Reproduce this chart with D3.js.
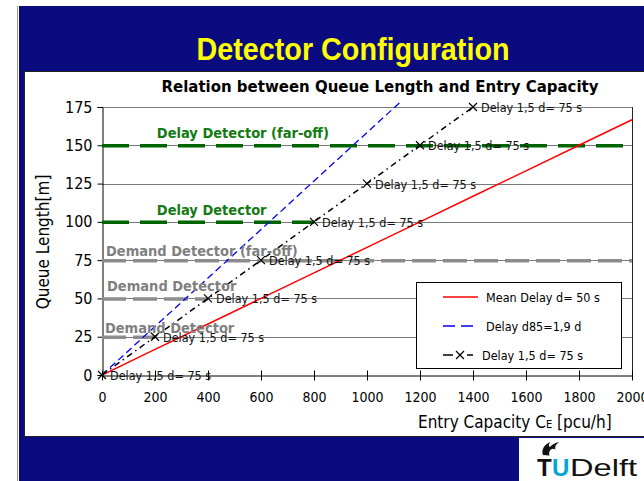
<!DOCTYPE html>
<html>
<head>
<meta charset="utf-8">
<script src="https://cdn.jsdelivr.net/npm/d3@7"></script>
<style>
  html, body { margin: 0; padding: 0; background: #ffffff; }
  svg { display: block; }
  .tahoma { font-family: "DejaVu Sans Condensed", "DejaVu Sans", sans-serif; font-stretch: condensed; }
</style>
</head>
<body>
<svg id="chart" width="644" height="481"></svg>
<script>
// Entry capacity (pcu/h) and queue length (m) for each delay criterion
const capacityRed   = [0, 200, 400, 600, 800, 1000, 1200, 1400, 1600, 1800, 2000];
const queueRed      = [0, 16.7, 33.3, 50, 66.7, 83.3, 100, 116.7, 133.3, 150, 166.7];
const capacityBlue  = [0, 200, 400, 600, 800, 1000, 1200];
const queueBlue     = [0, 31.7, 63.3, 95, 126.7, 158.3, 190];
const capacityBlack = [0, 200, 400, 600, 800, 1000, 1200, 1400];
const queueBlack    = [0, 25, 50, 75, 100, 125, 150, 175];

const seriesNames = ["Mean Delay d= 50 s", "Delay d85=1,9 d", "Delay 1,5 d= 75 s"];
const pointLabel = "Delay 1,5 d= 75 s";

// Detector positions (queue length) and how far each reference line runs
const detectorNames  = ["Delay Detector (far-off)", "Delay Detector", "Demand Detector (far-off)", "Demand Detector", "Demand Detector"];
const detectorLevels = [150, 100, 75, 50, 25];
const detectorEnds   = [2000, 800, 2000, 400, 200];
const detectorLabelX = [207, 207, 15, 19, 11];
const detectorKinds  = ["delay", "delay", "demand", "demand", "demand"];

const xTicks = [0, 200, 400, 600, 800, 1000, 1200, 1400, 1600, 1800, 2000];
const yTicks = [0, 25, 50, 75, 100, 125, 150, 175];

const svg = d3.select("#chart");

// Slide background
svg.append("rect").attr("x", 0).attr("y", 0).attr("width", 644).attr("height", 481).attr("fill", "#ffffff");
svg.append("rect").attr("x", 19).attr("y", 6).attr("width", 625).attr("height", 475).attr("fill", "#0b0b80");
svg.append("line").attr("x1", 17.5).attr("x2", 17.5).attr("y1", 6).attr("y2", 481).attr("stroke", "#9a9a9a");
svg.append("text")
  .attr("x", 353).attr("y", 60).attr("text-anchor", "middle")
  .attr("font-family", "'Liberation Sans Narrow', 'Arial Narrow', 'Liberation Sans', sans-serif")
  .attr("font-weight", "bold").attr("font-size", 32).attr("fill", "#ffff00")
  .attr("textLength", 313).attr("lengthAdjust", "spacingAndGlyphs")
  .text("Detector Configuration");

// White chart panel
svg.append("rect").attr("x", 24.5).attr("y", 71.5).attr("width", 625).attr("height", 365)
  .attr("fill", "#ffffff").attr("stroke", "#222").attr("stroke-width", 1);

// TU Delft logo box
const logo = svg.append("g");
logo.append("rect").attr("x", 519).attr("y", 438).attr("width", 125).attr("height", 43).attr("fill", "#ffffff");
logo.append("path")
  .attr("d", "M543,455 C541,450 544,445 550,442 C548.5,444.5 548.5,446 550,447 C552,444.5 555,443 559,442 C555.5,444.5 554.5,447 555.5,449.5 C553,448 550.5,449 549.5,451.5 C549,453 549,454 549.5,455.5 Z")
  .attr("fill", "#111");
logo.append("text").attr("x", 537).attr("y", 476)
  .attr("font-family", "'Liberation Sans', Arial, sans-serif").attr("font-weight", "bold")
  .attr("font-size", 24).attr("fill", "#111").text("T");
logo.append("text").attr("x", 552).attr("y", 476)
  .attr("font-family", "'Liberation Sans', Arial, sans-serif").attr("font-weight", "bold")
  .attr("font-size", 24).attr("fill", "#00a6d6").text("U");
logo.append("text").attr("x", 570).attr("y", 476)
  .attr("font-family", "'Liberation Sans', Arial, sans-serif")
  .attr("font-size", 24).attr("fill", "#111").attr("textLength", 67).attr("lengthAdjust", "spacingAndGlyphs").text("Delft");

// Plot area
const plot = { left: 102, right: 632, top: 107, bottom: 375 };
const x = d3.scaleLinear().domain([0, 2000]).range([plot.left, plot.right]);
const y = d3.scaleLinear().domain([0, 175]).range([plot.bottom, plot.top]);

svg.append("text").attr("class", "tahoma")
  .attr("x", 380).attr("y", 92).attr("text-anchor", "middle")
  .attr("font-weight", "bold").attr("font-size", 15).attr("fill", "#000")
  .attr("textLength", 437).attr("lengthAdjust", "spacingAndGlyphs")
  .text("Relation between Queue Length and Entry Capacity");

// Horizontal gridlines
svg.append("g").selectAll("line").data(yTicks.filter(d => d > 0)).join("line")
  .attr("x1", plot.left).attr("x2", plot.right)
  .attr("y1", d => Math.round(y(d)) + 0.5).attr("y2", d => Math.round(y(d)) + 0.5)
  .attr("stroke", "#7a7a7a").attr("stroke-width", 1);

// Right border of the plot
svg.append("line").attr("x1", plot.right + 0.5).attr("x2", plot.right + 0.5)
  .attr("y1", y(175)).attr("y2", y(0)).attr("stroke", "#222");

// Y axis
const yAxis = svg.append("g").attr("transform", `translate(${plot.left + 0.5},0)`)
  .call(d3.axisLeft(y).tickValues(yTicks).tickSize(5).tickPadding(5));
yAxis.select(".domain").attr("stroke", "#000");
yAxis.selectAll(".tick line").attr("stroke", "#000");
yAxis.selectAll(".tick text").attr("class", "tahoma").attr("font-size", 16).attr("fill", "#000");

// X axis with ticks crossing the axis line
const xAxis = svg.append("g").attr("transform", `translate(0,${Math.round(y(0)) + 0.5})`)
  .call(d3.axisBottom(x).tickValues(xTicks).tickFormat(d3.format("d"))
    .tickSizeInner(5).tickSizeOuter(0).tickPadding(12));
xAxis.select(".domain").attr("stroke", "#000");
xAxis.selectAll(".tick line").attr("y1", -5).attr("y2", 5).attr("stroke", "#000");
xAxis.selectAll(".tick text").attr("class", "tahoma").attr("font-size", 14).attr("fill", "#000");

// Axis titles
svg.append("text").attr("class", "tahoma")
  .attr("transform", "translate(49,242) rotate(-90)").attr("text-anchor", "middle")
  .attr("font-size", 17).attr("fill", "#000").text("Queue Length[m]");
const xTitle = svg.append("text").attr("class", "tahoma")
  .attr("x", 418).attr("y", 428).attr("font-size", 17).attr("fill", "#000");
xTitle.append("tspan").text("Entry Capacity C");
xTitle.append("tspan").attr("font-size", 11).text("E");
xTitle.append("tspan").text(" [pcu/h]");

// Detector reference lines
const detectorColor = { delay: "#006400", demand: "#8c8c8c" };
const detectorText  = { delay: "#137a13", demand: "#7f7f7f" };
svg.append("g").selectAll("line").data(detectorLevels).join("line")
  .attr("x1", x(0)).attr("x2", (d, i) => x(detectorEnds[i]))
  .attr("y1", d => y(d) + 0.5).attr("y2", d => y(d) + 0.5)
  .attr("stroke", (d, i) => detectorColor[detectorKinds[i]])
  .attr("stroke-width", 3.5)
  .attr("stroke-dasharray", (d, i) => detectorKinds[i] === "delay" ? "27,11" : "24,7");

// Curves
const clip = svg.append("defs").append("clipPath").attr("id", "plotClip");
clip.append("rect").attr("x", plot.left).attr("y", plot.top - 5)
  .attr("width", plot.right - plot.left + 1).attr("height", plot.bottom - plot.top + 6);

const line = d3.line().x(d => x(d[0])).y(d => y(d[1]));
const curves = svg.append("g").attr("clip-path", "url(#plotClip)");
curves.append("path").datum(d3.zip(capacityRed, queueRed)).attr("d", line)
  .attr("fill", "none").attr("stroke", "#ff0000").attr("stroke-width", 1.5);
curves.append("path").datum(d3.zip(capacityBlue, queueBlue)).attr("d", line)
  .attr("fill", "none").attr("stroke", "#0000ff").attr("stroke-width", 1.3).attr("stroke-dasharray", "7,4");
curves.append("path").datum(d3.zip(capacityBlack, queueBlack)).attr("d", line)
  .attr("fill", "none").attr("stroke", "#000").attr("stroke-width", 1.5).attr("stroke-dasharray", "6,4,1.5,4");

// Markers and their labels
const blackPts = d3.zip(capacityBlack, queueBlack);
const marks = svg.append("g");
marks.selectAll("path").data(blackPts).join("path")
  .attr("transform", d => `translate(${x(d[0])},${y(d[1])})`)
  .attr("d", "M-4,-4L4,4M-4,4L4,-4").attr("stroke", "#000").attr("stroke-width", 1.2).attr("fill", "none");
marks.selectAll("text").data(blackPts).join("text").attr("class", "tahoma")
  .attr("x", d => x(d[0]) + 8).attr("y", d => y(d[1]) + 5)
  .attr("font-size", 12.5).attr("fill", "#111").text(pointLabel);

// Detector labels
svg.append("g").selectAll("text").data(detectorLevels).join("text").attr("class", "tahoma")
  .attr("x", (d, i) => x(detectorLabelX[i]))
  .attr("y", (d, i) => y(d) - (i === 2 || i === 4 ? 4 : 7))
  .attr("font-weight", "bold").attr("font-size", 14.5)
  .attr("fill", (d, i) => detectorText[detectorKinds[i]])
  .text((d, i) => detectorNames[i]);

// Legend
const legend = svg.append("g");
legend.append("rect").attr("x", 416.5).attr("y", 282.5).attr("width", 205).attr("height", 86)
  .attr("fill", "#ffffff").attr("stroke", "#000");
legend.append("line").attr("x1", 443).attr("x2", 478).attr("y1", 297).attr("y2", 297)
  .attr("stroke", "#ff0000").attr("stroke-width", 1.5);
legend.append("line").attr("x1", 443).attr("x2", 475).attr("y1", 326).attr("y2", 326)
  .attr("stroke", "#0000ff").attr("stroke-width", 1.5).attr("stroke-dasharray", "12,6");
legend.append("line").attr("x1", 443).attr("x2", 477).attr("y1", 355).attr("y2", 355)
  .attr("stroke", "#000").attr("stroke-width", 1.5).attr("stroke-dasharray", "10,14,6");
legend.append("path").attr("transform", "translate(460,355)")
  .attr("d", "M-4,-4L4,4M-4,4L4,-4").attr("stroke", "#000").attr("stroke-width", 1.2);
legend.selectAll("text").data(seriesNames).join("text").attr("class", "tahoma")
  .attr("x", (d, i) => i === 2 ? 482 : 486).attr("y", (d, i) => 302 + i * 29)
  .attr("font-size", 12.5).attr("fill", "#000").text(d => d);
</script>
</body>
</html>
